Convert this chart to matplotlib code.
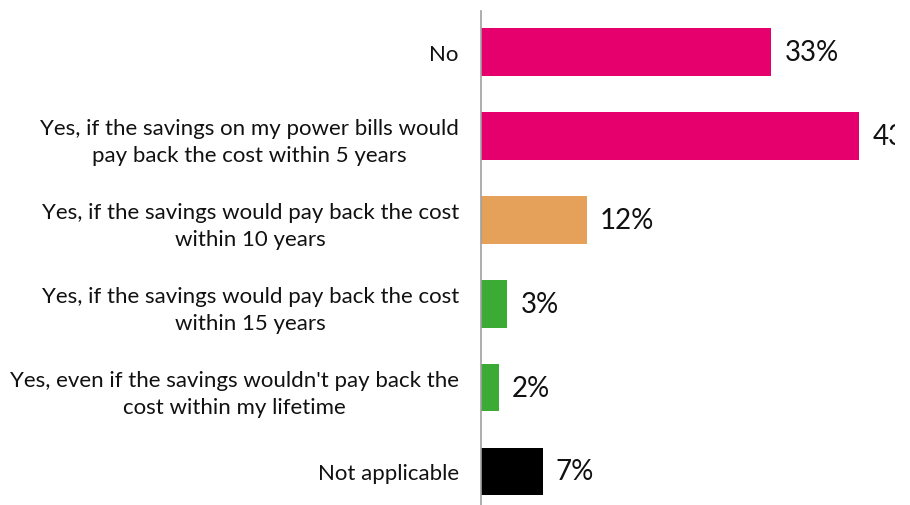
import matplotlib.pyplot as plt

CATEGORIES = [
    "No",
    "Yes, if the savings on my power bills would\npay back the cost within 5 years",
    "Yes, if the savings would pay back the cost\nwithin 10 years",
    "Yes, if the savings would pay back the cost\nwithin 15 years",
    "Yes, even if the savings wouldn't pay back the\ncost within my lifetime",
    "Not applicable",
]
VALUES = [33, 43, 12, 3, 2, 7]
COLORS = ["#E5006D", "#E5006D", "#E5A15A", "#3CAB36", "#3CAB36", "#000000"]

plt.rcParams["font.family"] = ["Lato", "DejaVu Sans"]

fig = plt.figure(figsize=(9.1, 5.06), dpi=100)
# axes: left edge at 481px, right edge at 895px (labels clipped there), top 12px
ax = fig.add_axes([481 / 910, 0.0, (895 - 481) / 910, (506 - 12) / 506])

y = list(range(len(CATEGORIES)))
ax.barh(y, VALUES, height=0.57, color=COLORS)

for yi, v in zip(y, VALUES):
    ax.annotate(f"{v}%", xy=(v, yi), xytext=(9.5, 0), textcoords="offset points",
                ha="left", va="center", fontsize=20, color="#111111",
                annotation_clip=False, clip_on=True)

ax.set_xlim(0, (895 - 481) / 8.8)
ax.set_ylim(5.40, -0.489)
ax.set_yticks(y)
ax.set_yticklabels(CATEGORIES, fontsize=16, multialignment="center",
                   linespacing=1.45, color="#111111")
ax.tick_params(axis="y", length=0, pad=16)
ax.set_xticks([])

for s in ["top", "right", "bottom"]:
    ax.spines[s].set_visible(False)
ax.spines["left"].set_color("#a0a0a0")
ax.spines["left"].set_linewidth(1.2)

fig.savefig("out.png", dpi=100)
